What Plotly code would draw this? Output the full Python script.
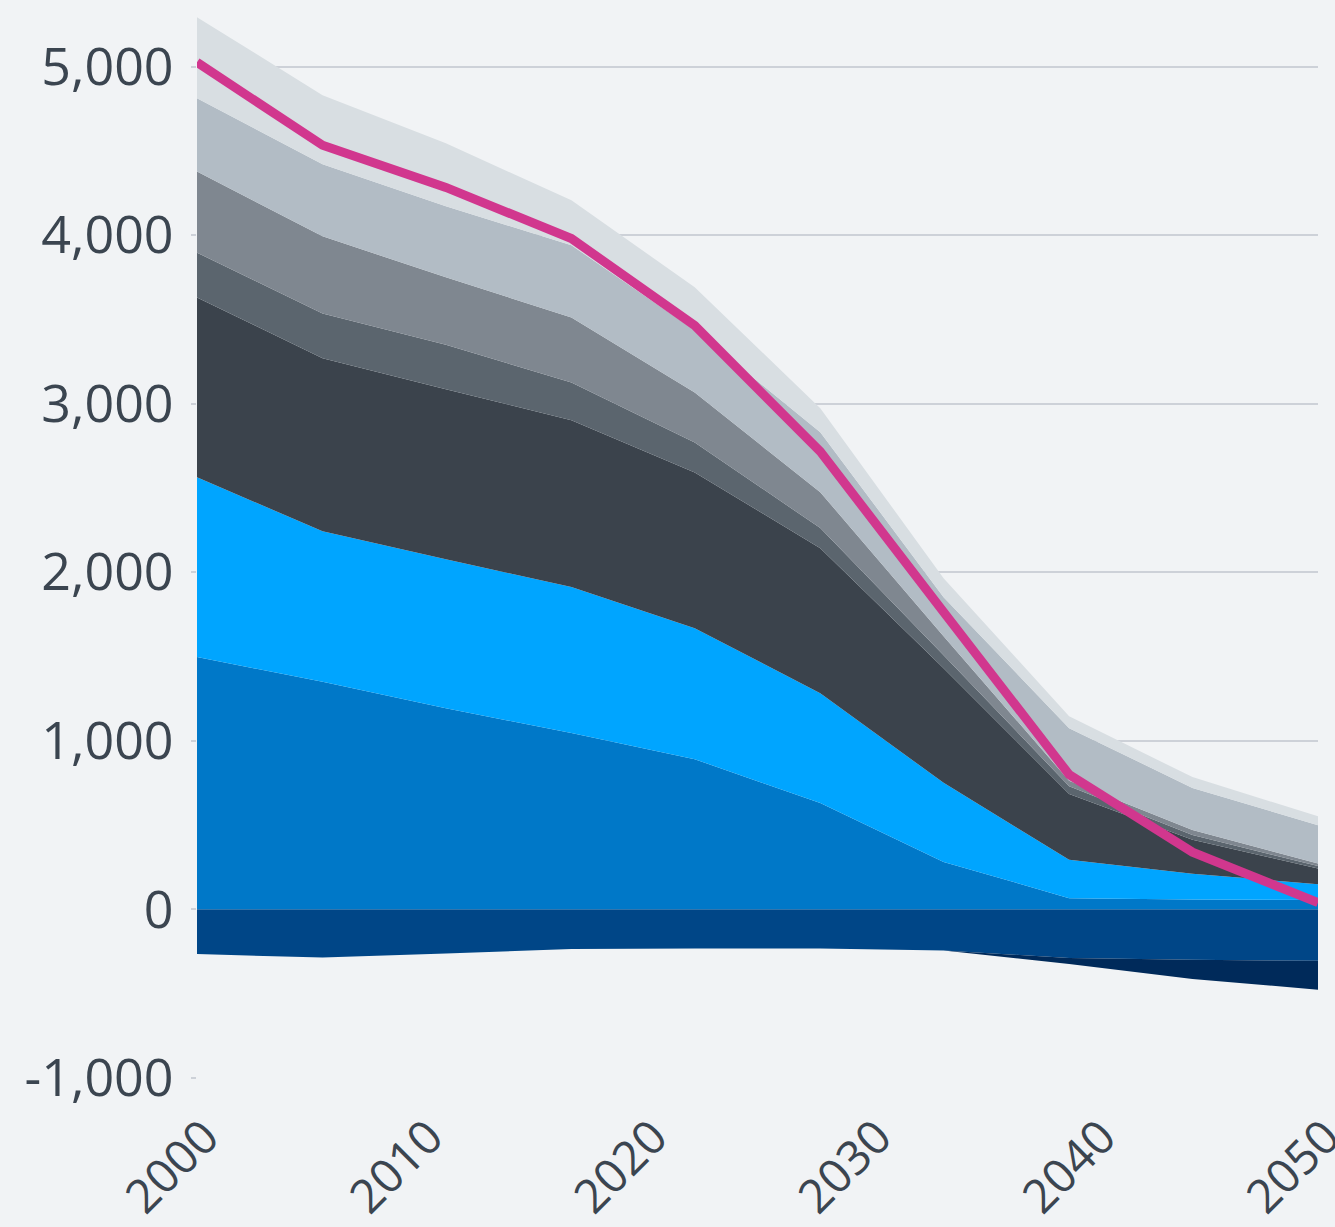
import plotly.graph_objects as go

# ---- data ----
years = [2000, 2005.6, 2011.1, 2016.7, 2022.2, 2027.8, 2033.3, 2038.9, 2044.4, 2050]

# positive stack, bottom to top
s1_medium_blue = [1497, 1350, 1194, 1046, 891, 631, 282, 67, 59, 56]
s2_bright_blue = [1067, 893, 884, 866, 777, 652, 469, 228, 152, 94]
s3_charcoal = [1066, 1027, 1008, 990, 924, 860, 680, 390, 202, 93]
s4_slate = [266, 265, 264, 224, 178, 119, 77, 46, 28, 14]
s5_mid_grey = [481, 458, 400, 385, 296, 213, 113, 32, 30, 16]
s6_light_grey = [435, 427, 421, 429, 370, 356, 231, 312, 250, 227]
s7_pale_grey = [481, 410, 374, 267, 255, 142, 113, 71, 64, 53]

# negative stack, top to bottom
n1_dark_blue = [-265, -285, -262, -235, -232, -232, -243, -288, -298, -305]
n2_navy = [0, 0, 0, 0, 0, 0, 0, -35, -115, -171]

# net line
net_line = [5025, 4533, 4283, 3980, 3464, 2716, 1765, 800, 340, 40]

x_tick_vals = [2000, 2010, 2020, 2030, 2040, 2050]
x_tick_text = ["2000", "2010", "2020", "2030", "2040", "2050"]
y_tick_vals = [-1000, 0, 1000, 2000, 3000, 4000, 5000]
y_tick_text = ["-1,000", "0", "1,000", "2,000", "3,000", "4,000", "5,000"]

# ---- styling ----
BG = "#f1f3f5"
TEXT = "#3b4550"
GRID = "#cdd1d8"

pos_series = [
    (s1_medium_blue, "#0078c8"),
    (s2_bright_blue, "#00a5ff"),
    (s3_charcoal, "#3b434c"),
    (s4_slate, "#5b656e"),
    (s5_mid_grey, "#7f8790"),
    (s6_light_grey, "#b2bcc5"),
    (s7_pale_grey, "#d8dee2"),
]
neg_series = [
    (n1_dark_blue, "#004687"),
    (n2_navy, "#002a5a"),
]

fig = go.Figure()
for vals, col in pos_series:
    fig.add_trace(go.Scatter(
        x=years, y=vals, stackgroup="pos", mode="lines",
        line=dict(width=0, color=col), fillcolor=col, hoverinfo="skip",
    ))
for vals, col in neg_series:
    fig.add_trace(go.Scatter(
        x=years, y=vals, stackgroup="neg", mode="lines",
        line=dict(width=0, color=col), fillcolor=col, hoverinfo="skip",
    ))
fig.add_trace(go.Scatter(
    x=years, y=net_line, mode="lines",
    line=dict(width=9, color="#d1378e"), hoverinfo="skip",
))

fig.update_layout(
    width=1335, height=1227,
    paper_bgcolor=BG, plot_bgcolor=BG,
    showlegend=False,
    margin=dict(l=197, r=17, t=16, b=149, autoexpand=False),
    font=dict(family="Open Sans", color=TEXT),
    xaxis=dict(
        range=[2000, 2050], tickvals=x_tick_vals, ticktext=x_tick_text,
        tickangle=-45, tickfont=dict(size=47, color=TEXT),
        showgrid=False, zeroline=False, showline=False, ticks="",
        ticklabelstandoff=21, ticklabelshift=8,
        automargin=False, ticklabeloverflow="allow",
    ),
    yaxis=dict(
        range=[-1000, 5300], tickvals=y_tick_vals, ticktext=y_tick_text,
        tickfont=dict(size=52, color=TEXT),
        showgrid=True, gridcolor=GRID, gridwidth=2,
        zeroline=False, showline=False,
        ticks="outside", ticklen=5, tickcolor=GRID, tickwidth=2,
        ticklabelstandoff=7,
        automargin=False, ticklabeloverflow="allow",
    ),
)

fig.write_html(
    "out.html",
    config={"displayModeBar": False},
    post_script=(
        "document.body.style.margin='0';"
        "document.body.style.background='#f1f3f5';"
        "document.body.style.overflow='hidden';"
    ),
)
